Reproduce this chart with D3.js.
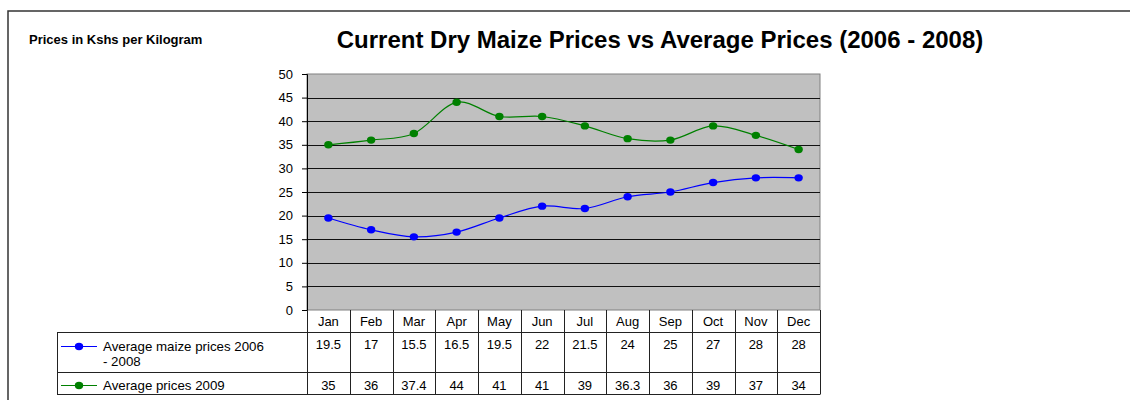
<!DOCTYPE html>
<html>
<head>
<meta charset="utf-8">
<script src="https://cdn.jsdelivr.net/npm/d3@7"></script>
<style>
  body { margin: 0; background: #fff; }
  svg { display: block; font-family: "Liberation Sans", Arial, sans-serif; }
</style>
</head>
<body>
<div id="chart"></div>
<script>
// chart data
var months = ["Jan", "Feb", "Mar", "Apr", "May", "Jun", "Jul", "Aug", "Sep", "Oct", "Nov", "Dec"];
var avgPrices0608 = [19.5, 17, 15.5, 16.5, 19.5, 22, 21.5, 24, 25, 27, 28, 28];
var avgPrices2009 = [35, 36, 37.4, 44, 41, 41, 39, 36.3, 36, 39, 37, 34];
var seriesNames = ["Average maize prices 2006 - 2008", "Average prices 2009"];
var seriesColors = ["#0000ff", "#008000"];
var yTicks = [0, 5, 10, 15, 20, 25, 30, 35, 40, 45, 50];

var width = 1130, height = 400;
var plot = {left: 307, right: 820, top: 74, bottom: 310};

var svg = d3.select("#chart").append("svg")
    .attr("width", width)
    .attr("height", height);

// outer frame (left and top edges only visible)
svg.append("path")
    .attr("d", "M8,400 L8,11 L1130,11")
    .attr("fill", "none")
    .attr("stroke", "#333")
    .attr("stroke-width", 1.5);

// titles
svg.append("text")
    .attr("x", 660).attr("y", 48)
    .attr("text-anchor", "middle")
    .attr("font-size", 24).attr("font-weight", "bold")
    .text("Current Dry Maize Prices vs Average Prices (2006 - 2008)");

svg.append("text")
    .attr("x", 29).attr("y", 44)
    .attr("font-size", 13).attr("font-weight", "bold")
    .text("Prices in Kshs per Kilogram");

// scales
var x = d3.scaleBand()
    .domain(months)
    .range([plot.left, plot.right]);
var y = d3.scaleLinear()
    .domain([0, 50])
    .range([plot.bottom, plot.top]);

// plot area
svg.append("rect")
    .attr("x", plot.left).attr("y", plot.top)
    .attr("width", plot.right - plot.left)
    .attr("height", plot.bottom - plot.top)
    .attr("fill", "#c0c0c0")
    .attr("stroke", "#808080");

// gridlines
svg.selectAll(".grid")
    .data(yTicks.filter(function(d) { return d > 0 && d < 50; }))
    .enter().append("line")
    .attr("class", "grid")
    .attr("x1", plot.left).attr("x2", plot.right)
    .attr("y1", function(d) { return Math.round(y(d)) + 0.5; })
    .attr("y2", function(d) { return Math.round(y(d)) + 0.5; })
    .attr("stroke", "#111");

// y axis
var yAxis = svg.append("g")
    .attr("transform", "translate(" + plot.left + ",0)")
    .call(d3.axisLeft(y).tickValues(yTicks).tickSize(5).tickPadding(9));
yAxis.select(".domain").attr("stroke", "#000");
yAxis.selectAll(".tick line").attr("stroke", "#000");
yAxis.selectAll("text")
    .attr("font-size", 13)
    .attr("font-family", "Liberation Sans, Arial, sans-serif")
    .attr("fill", "#000");

// series lines and markers
var line = d3.line()
    .x(function(d, i) { return x(months[i]) + x.bandwidth() / 2; })
    .y(function(d) { return y(d); })
    .curve(d3.curveCardinal.tension(0));

[avgPrices0608, avgPrices2009].forEach(function(values, k) {
    svg.append("path")
        .datum(values)
        .attr("fill", "none")
        .attr("stroke", seriesColors[k])
        .attr("stroke-width", 1.2)
        .attr("d", line);
    svg.selectAll(".dot" + k)
        .data(values)
        .enter().append("ellipse")
        .attr("class", "dot" + k)
        .attr("cx", function(d, i) { return x(months[i]) + x.bandwidth() / 2; })
        .attr("cy", function(d) { return y(d); })
        .attr("rx", 4.2).attr("ry", 3.7)
        .attr("fill", seriesColors[k]);
});

// data table
var tableLeft = 57;
var rows = [310, 332.5, 372.5, 394.5];
var table = svg.append("g").attr("stroke", "#222").attr("stroke-width", 1);

// horizontal lines
[rows[1], rows[2], rows[3]].forEach(function(r) {
    table.append("line")
        .attr("x1", tableLeft).attr("x2", plot.right)
        .attr("y1", r).attr("y2", r);
});
table.append("line")
    .attr("x1", tableLeft + 0.5).attr("x2", tableLeft + 0.5)
    .attr("y1", rows[1]).attr("y2", rows[3]);

// vertical lines at column boundaries
var bounds = months.map(function(m) { return x(m); }).concat([plot.right]);
table.selectAll(".vline")
    .data(bounds)
    .enter().append("line")
    .attr("class", "vline")
    .attr("x1", function(d) { return Math.round(d) + 0.5; })
    .attr("x2", function(d) { return Math.round(d) + 0.5; })
    .attr("y1", rows[0]).attr("y2", rows[3]);

// month labels
svg.selectAll(".month")
    .data(months)
    .enter().append("text")
    .attr("class", "month")
    .attr("x", function(d) { return x(d) + x.bandwidth() / 2; })
    .attr("y", 325.5)
    .attr("text-anchor", "middle")
    .attr("font-size", 13)
    .text(function(d) { return d; });

// value cells
var rowBaselines = [348.5, 390];
[avgPrices0608, avgPrices2009].forEach(function(values, k) {
    svg.selectAll(".val" + k)
        .data(values)
        .enter().append("text")
        .attr("class", "val" + k)
        .attr("x", function(d, i) { return x(months[i]) + x.bandwidth() / 2; })
        .attr("y", rowBaselines[k])
        .attr("text-anchor", "middle")
        .attr("font-size", 13)
        .text(function(d) { return d; });
});

// legend keys
var legendY = [346.5, 385.5];
[0, 1].forEach(function(k) {
    svg.append("line")
        .attr("x1", 61).attr("x2", 97)
        .attr("y1", legendY[k]).attr("y2", legendY[k])
        .attr("stroke", seriesColors[k])
        .attr("stroke-width", 1.2);
    svg.append("ellipse")
        .attr("cx", 79).attr("cy", legendY[k])
        .attr("rx", 4.2).attr("ry", 3.7)
        .attr("fill", seriesColors[k]);
});

var leg1 = svg.append("text").attr("font-size", 13.3);
leg1.append("tspan").attr("x", 103).attr("y", 351).text("Average maize prices 2006");
leg1.append("tspan").attr("x", 103).attr("y", 366).text("- 2008");
svg.append("text")
    .attr("x", 103).attr("y", 390)
    .attr("font-size", 13.3)
    .text(seriesNames[1]);
</script>
</body>
</html>
